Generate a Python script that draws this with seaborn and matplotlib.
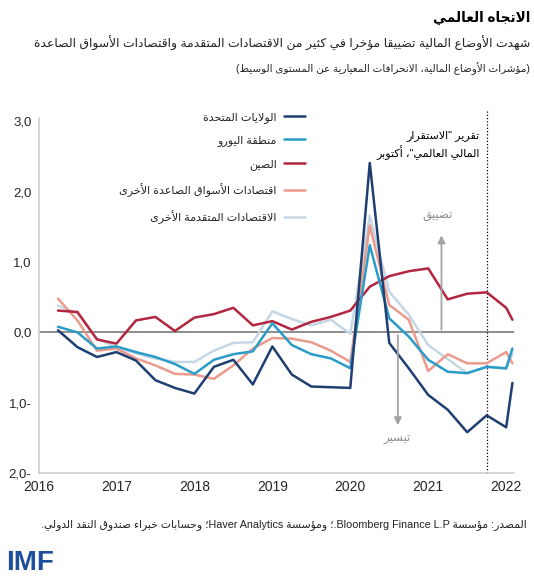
import re
import numpy as np
import pandas as pd
import matplotlib
matplotlib.use("Agg")
import matplotlib.pyplot as plt
import seaborn as sns

# ---- data (financial conditions indices, std. dev. from median) ----
quarters = list(np.arange(2016.25, 2022.01, 0.25)) + [2022.08]

us = [0.03, -0.21, -0.35, -0.28, -0.40, -0.68, -0.79, -0.87, -0.49, -0.39, -0.74, -0.20,
      -0.60, -0.77, -0.78, -0.79, 2.41, -0.15, -0.51, -0.89, -1.10, -1.42, -1.18, -1.35, -0.72]
euro = [0.08, 0.00, -0.23, -0.20, -0.28, -0.35, -0.45, -0.59, -0.39, -0.31, -0.27, 0.13,
        -0.18, -0.31, -0.37, -0.51, 1.24, 0.20, -0.06, -0.39, -0.56, -0.58, -0.49, -0.51, -0.23]
china = [0.31, 0.29, -0.10, -0.16, 0.17, 0.22, 0.02, 0.21, 0.26, 0.35, 0.10, 0.16,
         0.04, 0.15, 0.22, 0.31, 0.65, 0.80, 0.87, 0.91, 0.47, 0.55, 0.57, 0.35, 0.18]
other_em = [0.48, 0.17, -0.26, -0.23, -0.37, -0.47, -0.59, -0.60, -0.66, -0.47, -0.23, -0.08,
            -0.09, -0.14, -0.26, -0.42, 1.52, 0.39, 0.18, -0.55, -0.31, -0.44, -0.44, -0.28, -0.44]
other_ae = [0.38, 0.27, -0.09, -0.21, -0.30, -0.37, -0.42, -0.42, -0.26, -0.15, -0.14, 0.30,
            0.19, 0.10, 0.18, -0.02, 1.66, 0.58, 0.25, -0.18, -0.38, -0.58, -0.49, -0.52, -0.30]

series_names = ["الولايات المتحدة", "منطقة اليورو", "الصين",
                "اقتصادات الأسواق الصاعدة الأخرى", "الاقتصادات المتقدمة الأخرى"]
series_values = [us, euro, china, other_em, other_ae]
series_colors = ["#1f3f72", "#2a9cc8", "#b3263f", "#eb9b8d", "#c5d7e6"]

years = [2016, 2017, 2018, 2019, 2020, 2021, 2022]
y_ticks = [-2, -1, 0, 1, 2, 3]
y_labels = ["2,0-", "1,0-", "0,0", "1,0", "2,0", "3,0"]
gfsr_date = 2021.75

# ---- minimal arabic shaping + bidi (matplotlib has none) ----
DUAL = {}
for ch, b in zip("ئبتثجحخسشصضطظعغفقكلمنهي",
                 [0xFE89, 0xFE8F, 0xFE95, 0xFE99, 0xFE9D, 0xFEA1, 0xFEA5, 0xFEB1, 0xFEB5,
                  0xFEB9, 0xFEBD, 0xFEC1, 0xFEC5, 0xFEC9, 0xFECD, 0xFED1, 0xFED5, 0xFED9,
                  0xFEDD, 0xFEE1, 0xFEE5, 0xFEE9, 0xFEF1]):
    DUAL[ch] = b
RIGHT = {}
for ch, b in zip("آأؤإاةدذرزوى",
                 [0xFE81, 0xFE83, 0xFE85, 0xFE87, 0xFE8D, 0xFE93, 0xFEA9, 0xFEAB, 0xFEAD,
                  0xFEAF, 0xFEED, 0xFEEF]):
    RIGHT[ch] = b
LAMALEF = {"ا": 0xFEFB, "أ": 0xFEF7, "إ": 0xFEF9, "آ": 0xFEF5}
MIRROR = {"(": ")", ")": "("}


def shape(s):
    toks = []
    i = 0
    while i < len(s):
        if s[i] == "ل" and i + 1 < len(s) and s[i + 1] in LAMALEF:
            toks.append(("LA", s[i + 1]))
            i += 2
        else:
            toks.append(("C", s[i]))
            i += 1

    def joins_next(t):
        return t[0] == "C" and t[1] in DUAL

    def is_ar(t):
        return t[0] == "LA" or t[1] in DUAL or t[1] in RIGHT

    out = []
    for j, t in enumerate(toks):
        p = j > 0 and joins_next(toks[j - 1])
        n = j + 1 < len(toks) and is_ar(toks[j + 1])
        if t[0] == "LA":
            b = LAMALEF[t[1]]
            out.append(chr(b + 1 if p else b))
            continue
        c = t[1]
        if c in DUAL:
            b = DUAL[c]
            f = b + 3 if (p and n) else b + 1 if p else b + 2 if n else b
            out.append(chr(f))
        elif c in RIGHT:
            b = RIGHT[c]
            out.append(chr(b + 1 if p else b))
        elif c == "ء":
            out.append(chr(0xFE80))
        else:
            out.append(c)
    return "".join(out)


def ar(s):
    s = shape(s)
    parts = re.split(r"([A-Za-z0-9][A-Za-z0-9 .,]*[A-Za-z0-9]|[A-Za-z0-9])", s)
    vis = []
    for k, part in enumerate(parts):
        if k % 2 == 1:
            vis.append(part)
        else:
            vis.append("".join(MIRROR.get(c, c) for c in reversed(part)))
    return "".join(reversed(vis))


# ---- figure ----
sns.set_theme(style="white")
plt.rcParams["font.family"] = ["Liberation Sans", "DejaVu Sans"]

fig = plt.figure(figsize=(5.34, 5.82), dpi=100)
ax = fig.add_axes([0.0721, 0.1873, 0.8904, 0.610])

# draw back-to-front so the US line sits on top
for name, vals, col in reversed(list(zip(series_names, series_values, series_colors))):
    df = pd.DataFrame({"date": quarters, "value": vals})
    sns.lineplot(data=df, x="date", y="value", color=col, lw=1.8, ax=ax, label=ar(name))

ax.axhline(0, color="#8c8c8c", lw=1.4, zorder=1)
ax.axvline(gfsr_date, color="black", lw=0.9, ls=(0, (1, 1.6)), zorder=1, ymax=1.02,
           clip_on=False)

ax.set_xlim(2016.0, 2022.1)
ax.set_ylim(-2, 3.05)
ax.set_xticks(years)
ax.set_xticklabels([str(y) for y in years], fontsize=10)
ax.set_yticks(y_ticks)
ax.set_yticklabels(y_labels, fontsize=9.5)
ax.tick_params(length=0, pad=5)
ax.set_xlabel("")
ax.set_ylabel("")
for side in ["top", "right"]:
    ax.spines[side].set_visible(False)
for side in ["left", "bottom"]:
    ax.spines[side].set_color("#cfcfcf")
    ax.spines[side].set_linewidth(1.2)

handles, labels = ax.get_legend_handles_labels()
ax.legend(handles[::-1], labels[::-1], loc="upper right", bbox_to_anchor=(0.5605, 1.018),
          markerfirst=False, frameon=False, fontsize=8, handlelength=1.85,
          handletextpad=0.7, labelspacing=1.15, borderpad=0, borderaxespad=0)

# GFSR note
ax.text(2021.66, 2.88, ar('تقرير "الاستقرار') + "\n" + ar('المالي العالمي"، أكتوبر'),
        ha="right", va="top", fontsize=8, color="black", linespacing=1.32,
        multialignment="right")

# tightening / easing arrows
ax.annotate("", xy=(2021.17, 1.42), xytext=(2021.17, 0),
            arrowprops=dict(arrowstyle="-|>", color="#a3a3a3", lw=1.3, mutation_scale=11))
ax.text(2021.12, 1.66, ar("تضييق"), ha="center", va="center", fontsize=8.5, color="#8a8a8a")
ax.annotate("", xy=(2020.61, -1.36), xytext=(2020.61, 0),
            arrowprops=dict(arrowstyle="-|>", color="#a3a3a3", lw=1.3, mutation_scale=11))
ax.text(2020.6, -1.52, ar("تيسير"), ha="center", va="center", fontsize=8.5, color="#8a8a8a")

# titles and source
fig.text(0.9925, 0.969, ar("الاتجاه العالمي"), ha="right", va="center",
         fontsize=9.8, fontweight="bold", color="black")
fig.text(0.9925, 0.926, ar("شهدت الأوضاع المالية تضييقا مؤخرا في كثير من الاقتصادات المتقدمة واقتصادات الأسواق الصاعدة"),
         ha="right", va="center", fontsize=8.9, color="#222222")
fig.text(0.9925, 0.883, ar("(مؤشرات الأوضاع المالية، الانحرافات المعيارية عن المستوى الوسيط)"),
         ha="right", va="center", fontsize=7.5, color="#222222")
fig.text(0.987, 0.098, ar("المصدر: مؤسسة Bloomberg Finance L.P.؛ ومؤسسة Haver Analytics؛ وحسابات خبراء صندوق النقد الدولي."),
         ha="right", va="center", fontsize=7.75, color="#222222")
fig.text(0.012, 0.033, "IMF", ha="left", va="center", fontsize=20,
         fontweight="bold", color="#1c4f9c")

fig.savefig("out.png", dpi=100)
